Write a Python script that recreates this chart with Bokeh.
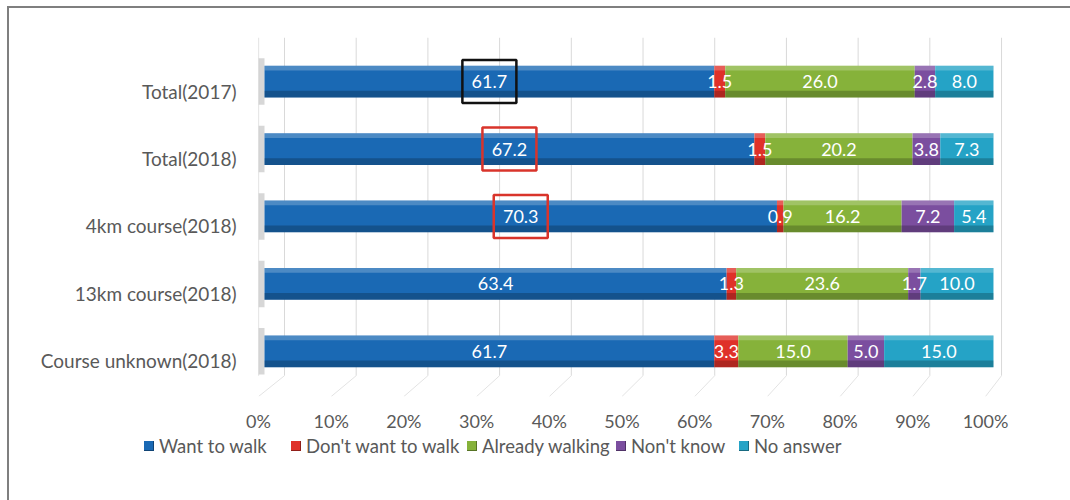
import numpy as np
from bokeh.plotting import figure
from bokeh.layouts import column
from bokeh.models import Range1d, FixedTicker, LinearAxis, ColumnDataSource, Div
from bokeh.core.properties import value
from bokeh.embed import file_html
from bokeh.resources import INLINE

# ---------------- data ----------------
categories = ["Total(2017)", "Total(2018)", "4km course(2018)", "13km course(2018)", "Course unknown(2018)"]
want_to_walk = [61.7, 67.2, 70.3, 63.4, 61.7]
dont_want = [1.5, 1.5, 0.9, 1.3, 3.3]
already_walking = [26.0, 20.2, 16.2, 23.6, 15.0]
dont_know = [2.8, 3.8, 7.2, 1.7, 5.0]
no_answer = [8.0, 7.3, 5.4, 10.0, 15.0]
series_names = ["Want to walk", "Don't want to walk", "Already walking", "Non't know", "No answer"]
tick_values = [0, 10, 20, 30, 40, 50, 60, 70, 80, 90, 100]
tick_labels = ["0%", "10%", "20%", "30%", "40%", "50%", "60%", "70%", "80%", "90%", "100%"]
boxed_rows = ["Total(2017)", "Total(2018)", "4km course(2018)"]
boxed_colors = ["#111111", "#d9342b", "#d9342b"]

# ---------------- style ----------------
colors = ["#1a69b4", "#df3129", "#86b23a", "#7b4e9f", "#25a3c6"]
FONT = "Lato"
GRAY = "#595959"
W = 1070
H1, H2 = 434, 66
FL, FR, FT, FB = 258, 40, 37, 36
BAR_H = 0.47
BAR_LIFT = 0.14
LEGEND_LEFTS = [144, 291, 467, 616, 739]
LINE_BG = ("linear-gradient(#7f7f7f,#7f7f7f) 8px 6px / 1062px 2px no-repeat, "
           "linear-gradient(#7f7f7f,#7f7f7f) 7px 6px / 2px 600px no-repeat, white")
LINE_BG2 = "linear-gradient(#7f7f7f,#7f7f7f) 7px 0px / 2px 600px no-repeat, white"

series = [want_to_walk, dont_want, already_walking, dont_know, no_answer]
ypos = list(range(len(categories)))[::-1]
ybar = [y + BAR_LIFT for y in ypos]
keys = ["s%d" % i for i in range(len(series))]

data = {"y": ybar}
for k, s in zip(keys, series):
    data[k] = s
source = ColumnDataSource(data)

p = figure(width=W, height=H1, output_backend="svg", toolbar_location=None,
           x_range=Range1d(-0.823, 105.08), y_range=Range1d(-0.53, 4.794),
           x_axis_location=None, y_axis_location="left",
           min_border_left=FL, min_border_right=FR, min_border_top=FT, min_border_bottom=FB)
p.extra_x_ranges = {"floor": Range1d(0, 106.19), "back": Range1d(-3.626, 104.04)}
p.border_fill_color = None
p.background_fill_color = None
p.outline_line_color = None
p.xgrid.visible = False
p.ygrid.visible = False
p.styles = {"background": LINE_BG}

# back grid lines + floor diagonals
fr = p.extra_x_ranges["floor"]; br = p.extra_x_ranges["back"]
FW = W - FL - FR
def back_in_floor(t):
    px = (t - br.start) / (br.end - br.start) * FW
    return fr.start + px / FW * (fr.end - fr.start)
y_top = p.y_range.end
y_floor = p.y_range.start
y_back = y_floor + 21 / 68.0
p.segment(x0=tick_values, x1=tick_values, y0=[y_top] * len(tick_values), y1=[y_back] * len(tick_values),
          x_range_name="back", line_color="#d9d9d9", line_width=1)
p.segment(x0=[back_in_floor(t) for t in tick_values], x1=tick_values,
          y0=[y_back] * len(tick_values), y1=[y_floor] * len(tick_values),
          x_range_name="floor", line_color="#e3e3e3", line_width=1)
p.segment(x0=[0], x1=[0], y0=[y_top], y1=[y_back], x_range_name="floor", line_color="#cfcfcf", line_width=1.2)

# left side shading of bars
p.hbar(y=ybar, left=[p.x_range.start] * 5, right=[0] * 5, height=BAR_H + 0.22,
       fill_color="#9a9a9a", fill_alpha=0.4, line_color=None)

# stacked bars
renderers = p.hbar_stack(keys, y="y", height=BAR_H, color=colors, source=source, line_color=None)

# 3D-ish shading: top highlight, bottom shadow
totals = np.sum(np.array(series), axis=0)
p.hbar(y=[y + BAR_H / 2 - 0.035 for y in ybar], left=[0] * 5, right=list(totals), height=0.07,
       fill_color="white", fill_alpha=0.22, line_color=None)
p.hbar(y=[y - BAR_H / 2 + 0.05 for y in ybar], left=[0] * 5, right=list(totals), height=0.1,
       fill_color="black", fill_alpha=0.22, line_color=None)

# value labels
arr = np.array(series)
lefts = np.vstack([np.zeros(arr.shape[1]), np.cumsum(arr, axis=0)[:-1]])
centers = lefts + arr / 2
lx, ly, lt = [], [], []
for i in range(arr.shape[0]):
    for j in range(arr.shape[1]):
        lx.append(centers[i, j]); ly.append(ybar[j]); lt.append("%.1f" % arr[i, j])
p.text(x=lx, y=ly, text=lt, text_align="center", text_baseline="middle",
       text_color="white", text_font=value(FONT), text_font_size="18px")

# highlight boxes
bx = [centers[0, categories.index(c)] for c in boxed_rows]
by = [ybar[categories.index(c)] for c in boxed_rows]
p.rect(x=bx, y=by, width=54, height=43, width_units="screen", height_units="screen",
       fill_color=None, line_color=boxed_colors, line_width=2.5)

# y axis (categories)
p.yaxis.ticker = FixedTicker(ticks=ypos)
p.yaxis.major_label_overrides = {y: c for y, c in zip(ypos, categories)}
p.yaxis.axis_line_color = None
p.yaxis.major_tick_line_color = None
p.yaxis.minor_tick_line_color = None
p.yaxis.major_tick_out = 0
p.yaxis.major_tick_in = 0
p.yaxis.major_label_standoff = 22
p.yaxis.major_label_text_font = FONT
p.yaxis.major_label_text_font_size = "19px"
p.yaxis.major_label_text_color = GRAY

# x axis (percent, on the floor)
xa = LinearAxis(x_range_name="floor", ticker=FixedTicker(ticks=tick_values))
xa.major_label_overrides = {t: l for t, l in zip(tick_values, tick_labels)}
xa.axis_line_color = None
xa.major_tick_line_color = None
xa.minor_tick_line_color = None
xa.major_tick_out = 0
xa.major_tick_in = 0
xa.major_label_standoff = 13
xa.major_label_text_font = FONT
xa.major_label_text_font_size = "18px"
xa.major_label_text_color = GRAY
p.add_layout(xa, "below")

# legend strip (HTML)
items = []
for name, col, left in zip(series_names, colors, LEGEND_LEFTS):
    items.append(
        '<div style="position:absolute;left:%dpx;top:0px;height:24px;display:flex;align-items:center;white-space:nowrap">'
        '<span style="display:inline-block;width:10px;height:10px;background:%s;margin-right:5px;'
        'box-shadow:inset -1px -1px 0 rgba(0,0,0,0.35)"></span><span>%s</span></div>' % (left, col, name))
legend_html = ('<div style="position:relative;width:%dpx;height:%dpx;font-family:Lato;font-size:18.5px;color:%s">%s</div>'
               % (W, H2, GRAY, "".join(items)))
leg = Div(text=legend_html, width=W, height=H2, margin=0, styles={"background": LINE_BG2})

layout = column(p, leg, spacing=0)
open("out.html", "w").write(file_html(layout, INLINE))
